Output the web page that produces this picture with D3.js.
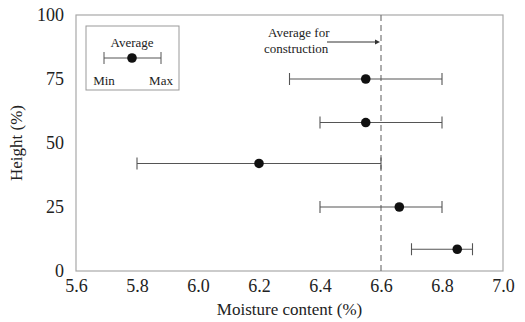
<!DOCTYPE html>
<html>
<head>
<meta charset="utf-8">
<script src="https://cdn.jsdelivr.net/npm/d3@7"></script>
<style>
body{margin:0;background:#fff;}
svg text{font-family:"Liberation Serif","Times New Roman",Times,"DejaVu Serif",serif;fill:#222;}
</style>
</head>
<body>
<div class="container"></div>
<script>
// values
var heights=[75,58,42,25,8.5];
var avgVals=[6.55,6.55,6.2,6.66,6.85];
var minVals=[6.3,6.4,5.8,6.4,6.7];
var maxVals=[6.8,6.8,6.6,6.8,6.9];
var xTicks=[5.6,5.8,6.0,6.2,6.4,6.6,6.8,7.0];
var yTicks=[0,25,50,75,100];
var constructionAvg=6.6;

var width=525,height=322;
var margin={left:76,right:22,top:15,bottom:51};
var serif='"Liberation Serif","Times New Roman",Times,"DejaVu Serif",serif';

var svg=d3.select(".container").append("svg").attr("width",width).attr("height",height);

var x=d3.scaleLinear().domain([5.6,7.0]).range([margin.left,width-margin.right]);
var y=d3.scaleLinear().domain([0,100]).range([height-margin.bottom,margin.top]);

// frame
svg.append("rect")
    .attr("x",x(5.6)).attr("y",y(100))
    .attr("width",x(7.0)-x(5.6)).attr("height",y(0)-y(100))
    .attr("fill","none").attr("stroke","#a8a8a8").attr("stroke-width",1.2);

// axis labels
var xAxis=d3.axisBottom(x).tickValues(xTicks).tickFormat(d3.format(".1f")).tickSize(0).tickPadding(8);
var gx=svg.append("g").attr("transform","translate(0,"+y(0)+")").call(xAxis);
gx.attr("font-family",serif).attr("font-size",18);
gx.select(".domain").remove();
gx.selectAll("text").attr("fill","#222");

var yAxis=d3.axisLeft(y).tickValues(yTicks).tickSize(0).tickPadding(12);
var gy=svg.append("g").attr("transform","translate("+x(5.6)+",0)").call(yAxis);
gy.attr("font-family",serif).attr("font-size",18);
gy.select(".domain").remove();
gy.selectAll("text").attr("fill","#222");

svg.append("text").attr("x",(x(5.6)+x(7.0))/2).attr("y",315)
    .attr("text-anchor","middle").attr("font-size",17).text("Moisture content (%)");
svg.append("text").attr("transform","translate(22,"+((y(0)+y(100))/2)+") rotate(-90)")
    .attr("text-anchor","middle").attr("font-size",17).text("Height (%)");

// dashed average line
svg.append("line")
    .attr("x1",x(constructionAvg)).attr("x2",x(constructionAvg))
    .attr("y1",y(100)).attr("y2",y(0))
    .attr("stroke","#777").attr("stroke-width",1.2).attr("stroke-dasharray","6,4");

// annotation
svg.append("text").attr("x",268).attr("y",37).attr("font-size",13).text("Average for");
svg.append("text").attr("x",264).attr("y",53).attr("font-size",13).text("construction");
svg.append("line").attr("x1",327).attr("x2",x(constructionAvg)-4).attr("y1",42).attr("y2",42)
    .attr("stroke","#333").attr("stroke-width",1);
svg.append("path").attr("d","M"+(x(constructionAvg)-1)+",42 l-5,-2.5 l0,5 z").attr("fill","#333");

// error bars
var rows=heights.map(function(h,i){return {h:h,avg:avgVals[i],min:minVals[i],max:maxVals[i]};});
var bars=svg.append("g").selectAll("g").data(rows).enter().append("g");
bars.append("line")
    .attr("x1",function(d){return x(d.min);}).attr("x2",function(d){return x(d.max);})
    .attr("y1",function(d){return y(d.h);}).attr("y2",function(d){return y(d.h);})
    .attr("stroke","#555").attr("stroke-width",1.1);
bars.append("line")
    .attr("x1",function(d){return x(d.min);}).attr("x2",function(d){return x(d.min);})
    .attr("y1",function(d){return y(d.h)-6;}).attr("y2",function(d){return y(d.h)+6;})
    .attr("stroke","#555").attr("stroke-width",1.1);
bars.append("line")
    .attr("x1",function(d){return x(d.max);}).attr("x2",function(d){return x(d.max);})
    .attr("y1",function(d){return y(d.h)-6;}).attr("y2",function(d){return y(d.h)+6;})
    .attr("stroke","#555").attr("stroke-width",1.1);
bars.append("circle")
    .attr("cx",function(d){return x(d.avg);}).attr("cy",function(d){return y(d.h);})
    .attr("r",4.8).attr("fill","#111");

// legend box
var lg=svg.append("g");
lg.append("rect").attr("x",86).attr("y",26).attr("width",93).attr("height",64)
    .attr("fill","#fff").attr("stroke","#999").attr("stroke-width",1);
lg.append("text").attr("x",132).attr("y",47).attr("text-anchor","middle").attr("font-size",13).text("Average");
lg.append("line").attr("x1",104).attr("x2",161).attr("y1",58).attr("y2",58).attr("stroke","#555");
lg.append("line").attr("x1",104).attr("x2",104).attr("y1",52).attr("y2",64).attr("stroke","#555");
lg.append("line").attr("x1",161).attr("x2",161).attr("y1",52).attr("y2",64).attr("stroke","#555");
lg.append("circle").attr("cx",132).attr("cy",58).attr("r",4.8).attr("fill","#111");
lg.append("text").attr("x",104).attr("y",85).attr("text-anchor","middle").attr("font-size",13).text("Min");
lg.append("text").attr("x",161).attr("y",85).attr("text-anchor","middle").attr("font-size",13).text("Max");
</script>
</body>
</html>
